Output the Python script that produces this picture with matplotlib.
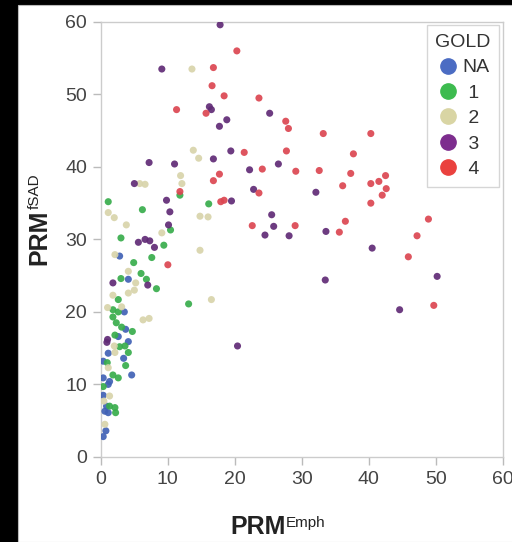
import matplotlib
matplotlib.use("Agg")
from matplotlib import pyplot as plt
from matplotlib.patches import Rectangle
from matplotlib.lines import Line2D

plt.rcParams['font.family'] = ['Liberation Sans', 'DejaVu Sans']

# GOLD groups
groups = ['NA', '1', '2', '3', '4']
legend_colors = ['#4b6cc3', '#3dbb4f', '#d9d5a4', '#7d2d8e', '#ea413e']
point_colors = ['#4162b5', '#38ad4c', '#d8d4ab', '#612b76', '#dc4651']

na_x = [2.8, 4.1, 3.5, 3.7, 2.6, 4.1, 1.1, 3.4, 0.35, 4.6, 0.35, 1.3, 1.1, 0.35, 0.85, 0.6, 1.1, 0.75, 0.35]
na_y = [27.7, 24.5, 20.0, 17.6, 16.6, 15.9, 14.3, 13.6, 13.2, 11.3, 10.9, 10.4, 10.0, 8.5, 7.0, 6.3, 6.1, 3.6, 2.8]

g1_x = [1.1, 6.2, 11.8, 16.1, 10.4, 3.0, 9.4, 7.6, 4.9, 6.0, 3.0, 6.8, 8.3, 2.6, 1.8, 2.6, 1.8, 2.3,
        3.1, 4.7, 2.1, 2.8, 3.6, 4.1, 0.95, 3.7, 1.8, 2.6, 0.35, 1.3, 2.1, 2.2, 13.1]
g1_y = [35.2, 34.1, 36.1, 34.9, 31.3, 30.2, 29.2, 27.5, 26.8, 25.3, 24.6, 24.5, 23.2, 21.7, 20.3, 20.0, 19.3, 18.5,
        17.9, 17.3, 16.8, 15.2, 15.3, 14.4, 13.0, 12.6, 11.3, 10.9, 9.7, 7.0, 6.8, 6.1, 21.1]

g2_x = [13.6, 13.8, 14.6, 5.8, 6.6, 11.9, 12.1, 1.1, 2.0, 3.8, 14.8, 16.0, 9.1, 14.8, 2.1, 4.1, 5.2, 5.0,
        4.1, 1.8, 3.1, 1.0, 6.3, 7.2, 2.0, 2.1, 1.1, 1.3, 0.45, 0.6, 16.5]
g2_y = [53.5, 42.3, 41.2, 37.7, 37.6, 38.8, 37.7, 33.7, 33.0, 32.0, 33.2, 33.1, 30.9, 28.5, 27.9, 25.6, 24.0, 23.0,
        22.6, 22.3, 20.7, 20.6, 18.9, 19.1, 15.3, 14.4, 12.3, 8.4, 7.7, 4.5, 21.7]

g3_x = [17.8, 9.1, 16.2, 16.5, 25.2, 18.8, 17.7, 7.2, 11.0, 5.0, 9.8, 10.3, 10.1, 5.6, 6.6, 7.3, 8.0, 16.8, 19.4,
        22.2, 19.5, 22.8, 26.5, 25.5, 25.8, 24.5, 28.1, 32.1, 33.6, 40.5, 33.5, 50.2, 44.6, 20.4, 1.8, 7.0, 1.0, 0.9]
g3_y = [59.6, 53.5, 48.3, 47.9, 47.4, 46.5, 45.6, 40.6, 40.4, 37.7, 35.4, 33.8, 32.0, 29.6, 30.0, 29.8, 28.9, 41.1, 42.2,
        39.6, 35.3, 36.9, 40.4, 33.4, 31.8, 30.6, 30.5, 36.5, 31.1, 28.8, 24.4, 24.9, 20.3, 15.3, 24.0, 23.7, 16.2, 15.8]

g4_x = [20.3, 16.8, 16.6, 18.4, 23.6, 11.3, 15.7, 27.6, 28.0, 11.8, 17.7, 16.8, 17.9, 18.4, 21.4, 10.0, 27.7, 24.1,
        29.1, 23.6, 22.6, 29.0, 33.2, 40.3, 37.7, 32.6, 37.3, 42.5, 41.5, 40.3, 36.1, 42.6, 42.0, 40.3, 36.5, 35.6,
        48.9, 47.2, 45.9, 49.7]
g4_y = [56.0, 53.7, 51.2, 49.8, 49.5, 47.9, 47.4, 46.3, 45.3, 36.6, 39.0, 38.1, 35.2, 35.4, 42.0, 26.5, 42.2, 39.7,
        39.4, 36.4, 31.9, 31.9, 44.6, 44.6, 41.8, 39.5, 39.1, 38.8, 38.0, 37.7, 37.4, 37.0, 36.1, 35.0, 32.5, 31.0,
        32.8, 30.5, 27.6, 20.9]

xs = [na_x, g1_x, g2_x, g3_x, g4_x]
ys = [na_y, g1_y, g2_y, g3_y, g4_y]

W, H = 512, 542

fig = plt.figure(figsize=(5.12, 5.42), dpi=100, facecolor='black')
fig.patches.append(Rectangle((0.035, 0), 1.0, 0.991, transform=fig.transFigure,
                             facecolor='white', edgecolor='#bbbbbb', lw=0.8, zorder=-10))
ax = fig.add_axes([0.197, 0.157, 0.785, 0.8026])

for gx, gy, c in zip(xs, ys, point_colors):
    ax.scatter(gx, gy, s=26, color=c, alpha=0.92, edgecolors='none', zorder=3)

ax.set_xlim(0, 60)
ax.set_ylim(0, 60)
ax.set_xticks([0, 10, 20, 30, 40, 50, 60])
ax.set_yticks([0, 10, 20, 30, 40, 50, 60])
for s in ax.spines.values():
    s.set_color('#cccccc')
    s.set_linewidth(1.0)
ax.tick_params(direction='out', length=6, width=1, color='#bbbbbb', labelcolor='#444444',
               labelsize=14, pad=4)

# axis titles: bold PRM with a small superscript aligned to the cap height
fig.text(230 / W, 1 - 534 / H, 'PRM', fontsize=18, fontweight='bold', color='#222222',
         ha='left', va='baseline')
fig.text(286 / W, 1 - 527 / H, 'Emph', fontsize=11, color='#222222', ha='left', va='baseline')
fig.text(46 / W, 1 - 265 / H, 'PRM', fontsize=18, fontweight='bold', color='#222222',
         ha='left', va='baseline', rotation=90, rotation_mode='anchor')
fig.text(39 / W, 1 - 209 / H, 'fSAD', fontsize=11, color='#222222',
         ha='left', va='baseline', rotation=90, rotation_mode='anchor')

handles = [Line2D([], [], marker='o', ls='', markersize=11, color=c) for c in legend_colors]
labels = ['NA', ' 1', ' 2', ' 3', ' 4']
leg = ax.legend(handles, labels, title='GOLD', loc='upper right', fontsize=14, title_fontsize=14,
                frameon=True, fancybox=False, edgecolor='#cccccc', handletextpad=0.15,
                handlelength=1.2, labelspacing=0.4, borderpad=0.45, borderaxespad=0.17)
leg.get_frame().set_linewidth(1.0)
for t in leg.get_texts():
    t.set_color('#333333')
leg.get_title().set_color('#333333')

fig.savefig('out.png', dpi=100, facecolor='black')
